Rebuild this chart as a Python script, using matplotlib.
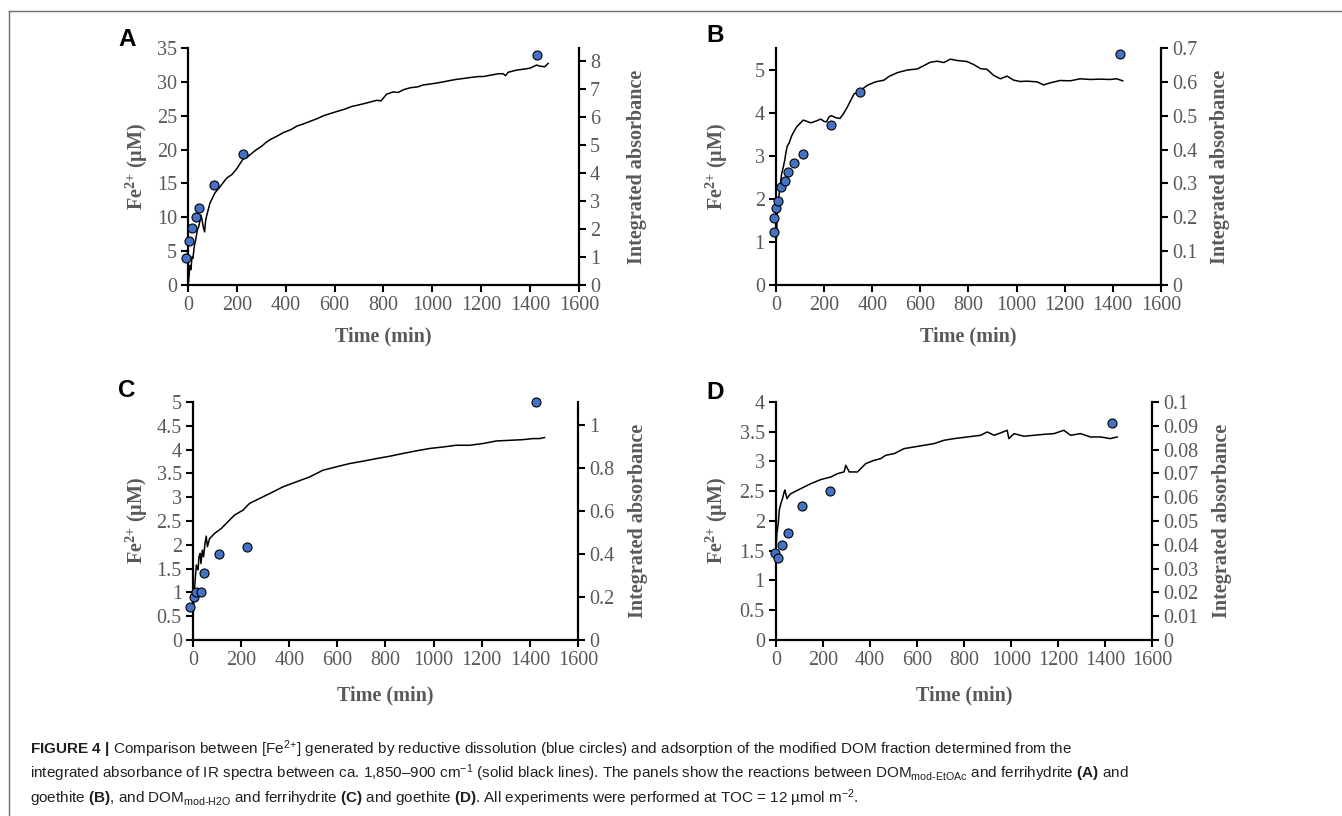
import matplotlib
matplotlib.use("Agg")
import matplotlib.pyplot as plt
from matplotlib.ticker import FixedLocator, FuncFormatter
from matplotlib.lines import Line2D
import numpy as np

plt.rcParams['mathtext.fontset'] = 'custom'
plt.rcParams['mathtext.rm'] = 'Liberation Sans'
plt.rcParams['mathtext.bf'] = 'Liberation Sans:bold'
plt.rcParams['mathtext.it'] = 'Liberation Sans:italic'

GRAY = '#595959'
BLUE = '#4472C4'
SERIF = ['Liberation Serif', 'DejaVu Serif']

# ---- Fe2+ (blue circles), left axis ----
a_fe_t = [-9, 4, 18, 31, 45, 108, 224, 1427]
a_fe = [4.0, 6.5, 8.4, 10.1, 11.4, 14.7, 19.3, 33.9]
b_fe_t = [-7, -7, 0, 10, 23, 37, 51, 77, 112, 229, 348, 1429]
b_fe = [1.24, 1.55, 1.80, 1.95, 2.28, 2.43, 2.64, 2.84, 3.05, 3.72, 4.49, 5.37]
c_fe_t = [-12, 4, 14, 32, 46, 107, 226, 1427]
c_fe = [0.69, 0.91, 1.01, 1.01, 1.41, 1.80, 1.95, 4.99]
d_fe_t = [-6, 10, 24, 52, 109, 229, 1429]
d_fe = [1.47, 1.38, 1.59, 1.79, 2.25, 2.51, 3.64]

# ---- integrated absorbance (black lines), right axis ----
a_ir_t = [2, 8, 12, 16, 20, 26, 31, 38, 44, 49, 53, 57, 63, 68, 72, 77, 90, 110, 131, 158,
          180, 199, 225, 240, 260, 282, 300, 320, 337, 360, 391, 420, 446, 470, 500, 530,
          555, 580, 609, 640, 670, 691, 720, 750, 773, 790, 813, 840, 860, 882, 910, 940,
          963, 990, 1020, 1045, 1080, 1100, 1127, 1160, 1190, 1209, 1240, 1270, 1290, 1300,
          1310, 1345, 1380, 1400, 1427, 1440, 1460, 1474]
a_ir = [0.1, 0.7, 0.55, 1.0, 0.95, 1.4, 1.6, 1.95, 2.1, 2.3, 2.5, 2.35, 2.05, 1.9, 2.3, 2.5,
        2.93, 3.29, 3.51, 3.82, 3.95, 4.15, 4.5, 4.55, 4.7, 4.85, 4.95, 5.1, 5.2, 5.3, 5.45,
        5.55, 5.68, 5.75, 5.85, 5.95, 6.05, 6.12, 6.2, 6.28, 6.38, 6.42, 6.48, 6.55, 6.6,
        6.58, 6.82, 6.9, 6.88, 6.98, 7.05, 7.08, 7.15, 7.18, 7.22, 7.26, 7.32, 7.35, 7.38,
        7.42, 7.45, 7.45, 7.5, 7.55, 7.55, 7.48, 7.6, 7.68, 7.72, 7.75, 7.86, 7.82, 7.8, 7.92]
b_ir_t = [0, 3, 7, 12, 17, 24, 28, 37, 41, 47, 55, 65, 76, 86, 97, 113, 130, 145, 166, 187,
          200, 210, 221, 231, 249, 266, 280, 297, 325, 340, 352, 380, 414, 449, 470, 504,
          546, 587, 615, 642, 670, 698, 725, 753, 794, 822, 850, 877, 905, 933, 960, 988,
          1015, 1043, 1085, 1112, 1140, 1181, 1223, 1264, 1306, 1347, 1389, 1416, 1441]
b_ir = [0.12, 0.16, 0.25, 0.26, 0.29, 0.33, 0.34, 0.37, 0.39, 0.41, 0.42, 0.44, 0.455, 0.467,
        0.475, 0.487, 0.483, 0.479, 0.484, 0.490, 0.483, 0.482, 0.497, 0.5, 0.494, 0.492,
        0.505, 0.526, 0.565, 0.568, 0.575, 0.590, 0.600, 0.605, 0.616, 0.627, 0.635, 0.638,
        0.648, 0.658, 0.661, 0.657, 0.667, 0.663, 0.660, 0.651, 0.639, 0.637, 0.619, 0.609,
        0.617, 0.605, 0.601, 0.602, 0.600, 0.591, 0.597, 0.604, 0.603, 0.609, 0.607, 0.608,
        0.607, 0.609, 0.603]
c_ir_t = [0, 4, 7, 14, 21, 25, 30, 33, 39, 44, 50, 55, 60, 69, 90, 118, 145, 173, 208, 235,
          277, 319, 374, 429, 485, 540, 596, 651, 706, 762, 817, 873, 928, 983, 1039, 1094,
          1150, 1205, 1261, 1316, 1371, 1413, 1441, 1461]
c_ir = [0.093, 0.2, 0.247, 0.348, 0.325, 0.386, 0.402, 0.355, 0.417, 0.386, 0.448, 0.482,
        0.433, 0.471, 0.495, 0.518, 0.549, 0.580, 0.603, 0.634, 0.657, 0.680, 0.711, 0.734,
        0.757, 0.788, 0.804, 0.819, 0.830, 0.842, 0.853, 0.866, 0.878, 0.889, 0.896, 0.904,
        0.904, 0.912, 0.924, 0.927, 0.930, 0.935, 0.935, 0.940]
d_ir_t = [0, 4, 10, 14, 21, 28, 35, 38, 47, 57, 64, 78, 106, 149, 191, 234, 262, 290, 297,
          312, 347, 382, 418, 446, 467, 503, 545, 588, 630, 673, 715, 758, 814, 871, 899,
          928, 956, 984, 991, 1013, 1055, 1098, 1140, 1183, 1225, 1254, 1296, 1338, 1381,
          1423, 1452]
d_ir = [0.0378, 0.0448, 0.049, 0.0545, 0.0573, 0.0594, 0.0622, 0.063, 0.0594, 0.0608, 0.0615,
        0.0622, 0.0636, 0.0657, 0.0674, 0.0685, 0.0699, 0.0706, 0.0734, 0.0706, 0.0706,
        0.0741, 0.0755, 0.0762, 0.0776, 0.0783, 0.0804, 0.0811, 0.0818, 0.0825, 0.0839,
        0.0846, 0.0853, 0.0860, 0.0874, 0.0860, 0.0870, 0.0881, 0.0846, 0.0867, 0.0856,
        0.0860, 0.0864, 0.0867, 0.0881, 0.0860, 0.0867, 0.0853, 0.0853, 0.0846, 0.0853]

panels = [
    dict(letter='A', pos=[0.1401, 0.6507, 0.2913, 0.2905], fe_t=a_fe_t, fe=a_fe, ir_t=a_ir_t, ir=a_ir,
         ylim=35, yticks=np.arange(0, 36, 5), rlim=8.47, rticks=np.arange(0, 9, 1),
         llab=-0.13, rlab=1.148, tlab=-0.215, let=(127, 40)),
    dict(letter='B', pos=[0.5782, 0.6507, 0.2869, 0.2905], fe_t=b_fe_t, fe=b_fe, ir_t=b_ir_t, ir=b_ir,
         ylim=5.52, yticks=np.arange(0, 6, 1), rlim=0.7, rticks=np.round(np.arange(0, 0.71, 0.1), 2),
         llab=-0.153, rlab=1.153, tlab=-0.215, let=(715, 36)),
    dict(letter='C', pos=[0.1438, 0.2157, 0.2869, 0.2917], fe_t=c_fe_t, fe=c_fe, ir_t=c_ir_t, ir=c_ir,
         ylim=5, yticks=np.round(np.arange(0, 5.01, 0.5), 1), rlim=1.105, rticks=np.round(np.arange(0, 1.01, 0.2), 1),
         llab=-0.145, rlab=1.156, tlab=-0.235, let=(127, 390)),
    dict(letter='D', pos=[0.5782, 0.2157, 0.2802, 0.2917], fe_t=d_fe_t, fe=d_fe, ir_t=d_ir_t, ir=d_ir,
         ylim=4, yticks=np.round(np.arange(0, 4.01, 0.5), 1), rlim=0.1, rticks=np.round(np.arange(0, 0.101, 0.01), 2),
         llab=-0.157, rlab=1.186, tlab=-0.235, let=(715, 392)),
]

W, H = 1342, 816
fig = plt.figure(figsize=(W / 100, H / 100), dpi=100)
fmt = FuncFormatter(lambda v, p: f"{v:g}")

for p in panels:
    ax = fig.add_axes(p['pos'])
    ax2 = ax.twinx()
    ax2.plot(p['ir_t'], p['ir'], color='black', lw=1.1)
    ax.plot(p['fe_t'], p['fe'], 'o', ms=6.5, mfc=BLUE, mec='black', mew=0.8, clip_on=False, zorder=5)
    ax.set_zorder(ax2.get_zorder() + 1)
    ax.patch.set_visible(False)

    ax.set_xlim(0, 1600)
    ax.set_ylim(0, p['ylim'])
    ax2.set_ylim(0, p['rlim'])
    ax.xaxis.set_major_locator(FixedLocator(np.arange(0, 1601, 200)))
    ax.yaxis.set_major_locator(FixedLocator(p['yticks']))
    ax2.yaxis.set_major_locator(FixedLocator(p['rticks']))
    for a in (ax, ax2):
        a.xaxis.set_major_formatter(fmt)
        a.yaxis.set_major_formatter(fmt)
        for s in a.spines.values():
            s.set_visible(False)
        a.tick_params(which='both', direction='out', length=5, width=1.5, color='black',
                      labelcolor=GRAY, labelsize=14.5, pad=3)
        for lab in a.get_xticklabels() + a.get_yticklabels():
            lab.set_family(SERIF)
    ax.spines['left'].set_visible(True)
    ax.spines['bottom'].set_visible(True)
    ax2.spines['right'].set_visible(True)
    for s in (ax.spines['left'], ax.spines['bottom'], ax2.spines['right']):
        s.set_linewidth(1.6)

    ax.set_ylabel(r'Fe$\mathregular{^{2{+}}}$ (µM)', color=GRAY, fontsize=14.5, fontweight='bold', family=SERIF)
    ax.yaxis.set_label_coords(p['llab'], 0.5)
    ax.yaxis.label.set_va('center')
    ax2.set_ylabel('Integrated absorbance', color=GRAY, fontsize=14.5, fontweight='bold',
                   family=SERIF, rotation=90)
    ax2.yaxis.set_label_coords(p['rlab'], 0.5)
    ax2.yaxis.label.set_va('center')
    ax.set_xlabel('Time (min)', color=GRAY, fontsize=14.5, fontweight='bold', family=SERIF)
    ax.xaxis.set_label_coords(0.5, p['tlab'])
    ax.xaxis.label.set_va('center')

    fig.text(p['let'][0] / W, 1 - p['let'][1] / H, p['letter'], fontsize=17.5, fontweight='bold',
             family=['Liberation Sans', 'DejaVu Sans'], ha='center', va='center', color='black')

# frame lines (top and left)
fig.add_artist(Line2D([9 / W, 1], [1 - 10.5 / H, 1 - 10.5 / H], color='#6b6b6b', lw=1.0))
fig.add_artist(Line2D([9 / W, 9 / W], [0, 1 - 10.5 / H], color='#6b6b6b', lw=1.0))

cap = [
    r"$\mathbf{FIGURE\ 4\ |}$ Comparison between [Fe$^{2{+}}$] generated by reductive dissolution (blue circles) and adsorption of the modified DOM fraction determined from the",
    r"integrated absorbance of IR spectra between ca. 1,850–900 cm$^{-1}$ (solid black lines). The panels show the reactions between DOM$_{\mathrm{mod‐EtOAc}}$ and ferrihydrite $\mathbf{(A)}$ and",
    r"goethite $\mathbf{(B)}$, and DOM$_{\mathrm{mod‐H2O}}$ and ferrihydrite $\mathbf{(C)}$ and goethite $\mathbf{(D)}$. All experiments were performed at TOC = 12 µmol m$^{-2}$.",
]
for i, line in enumerate(cap):
    fig.text(30 / W, 1 - (749 + 24.5 * i) / H, line, fontsize=11, family='Liberation Sans',
             color='#231f20', ha='left', va='center')

fig.savefig('out.png', dpi=100)
